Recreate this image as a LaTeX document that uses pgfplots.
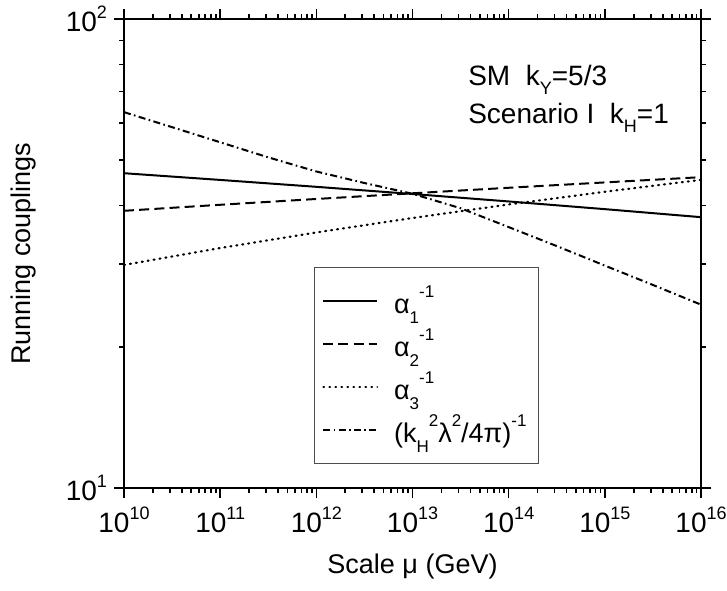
\documentclass[border=0pt]{standalone}
\usepackage{fontspec}
\setmainfont{Liberation Sans}
\usepackage{pgfplots}
\pgfplotsset{compat=1.18}
\newcommand\tsup[1]{\raisebox{0.46em}{\fontsize{9}{9}\selectfont #1}}
\newcommand\lsup[1]{\raisebox{0.6em}{\fontsize{8.5}{9}\selectfont #1}}
\newcommand\lsub[1]{\raisebox{-0.38em}{\fontsize{8.5}{9}\selectfont #1}}
\newcommand\asub[1]{\raisebox{-0.35em}{\fontsize{9}{9}\selectfont #1}}
\begin{document}
\begin{tikzpicture}
\useasboundingbox (-62pt,-51pt) rectangle (301.5pt,244pt);
\begin{axis}[
 at={(0,0)}, anchor=south west,
 scale only axis, width=288.5pt, height=234.5pt,
 xmode=log, ymode=log,
 xmin=1e10, xmax=1e16, ymin=10, ymax=100,
 xtick={1e10,1e11,1e12,1e13,1e14,1e15,1e16},
 xticklabels={10\tsup{10},10\tsup{11},10\tsup{12},10\tsup{13},10\tsup{14},10\tsup{15},10\tsup{16}},
 minor xtick={2e10,3e10,4e10,5e10,6e10,7e10,8e10,9e10,
   2e11,3e11,4e11,5e11,6e11,7e11,8e11,9e11,
   2e12,3e12,4e12,5e12,6e12,7e12,8e12,9e12,
   2e13,3e13,4e13,5e13,6e13,7e13,8e13,9e13,
   2e14,3e14,4e14,5e14,6e14,7e14,8e14,9e14,
   2e15,3e15,4e15,5e15,6e15,7e15,8e15,9e15},
 ytick={10,100}, yticklabels={10\tsup{1},10\tsup{2}},
 minor ytick={20,30,40,50,60,70,80,90},
 tick align=outside,
 major tick length=5pt, minor tick length=2.5pt,
 axis line style={line width=1pt},
 every tick/.style={black, line width=0.8pt},
 tick label style={font=\fontsize{14}{16}\selectfont},
 xticklabel style={yshift=-1pt},
 xlabel={Scale μ (GeV)}, ylabel={Running couplings},
 every axis x label/.style={at={(axis description cs:0.5,-0.168)}, anchor=center, font=\fontsize{13.5}{16}\selectfont},
 every axis y label/.style={at={(axis description cs:-0.175,0.5)}, anchor=center, rotate=90, font=\fontsize{13.5}{16}\selectfont},
 legend style={at={(rel axis cs:0.329,0.471)}, anchor=north west,
   draw=gray!60!black, line width=0.6pt, fill=white,
   font=\fontsize{13.5}{16}\selectfont,
   inner xsep=4pt, inner ysep=7pt, row sep=2pt},
 legend cell align=left,
 legend image code/.code={\draw[#1, line width=0.8pt] (0pt,0pt) -- (27pt,0pt);},
]
\addplot[black, line width=1pt] coordinates {
 (1e10,46.9) (1e11,45.38) (1e12,43.87) (1e13,42.35) (1e14,40.83) (1e15,39.32) (1e16,37.8)};
\addlegendentry{\hspace{6pt}α\lsub{1}\lsup{-1}}
\addplot[black, line width=1pt, dash pattern=on 5pt off 2.6pt] coordinates {
 (1e10,39.0) (1e11,40.17) (1e12,41.33) (1e13,42.5) (1e14,43.67) (1e15,44.83) (1e16,46.0)};
\addlegendentry{\hspace{6pt}α\lsub{2}\lsup{-1}}
\addplot[black, line width=1.1pt, line cap=round, dash pattern=on 0.5pt off 2.5pt] coordinates {
 (1e10,29.9) (1e11,32.48) (1e12,35.07) (1e13,37.65) (1e14,40.23) (1e15,42.82) (1e16,45.4)};
\addlegendentry{\hspace{6pt}α\lsub{3}\lsup{-1}}
\addplot[black, line width=1pt, dash pattern=on 3.5pt off 1.7pt on 0.8pt off 1.7pt] coordinates {
 (1e10,63.3) (3.16e10,58.8) (1e11,54.6) (3.16e11,50.7) (1e12,47.3) (3.16e12,44.7) (1e13,42.4)
 (3.16e13,39.5) (1e14,36.0) (3.16e14,32.8) (1e15,29.8) (3.16e15,27.1) (1e16,24.6)};
\addlegendentry{\hspace{6pt}(k\lsub{H}\lsup{2}λ\lsup{2}/4π)\lsup{-1}}
\node[anchor=base west, font=\fontsize{14}{16}\selectfont, inner sep=0pt] at (rel axis cs:0.596,0.859) {SM\ \ k\asub{Y}=5/3};
\node[anchor=base west, font=\fontsize{14}{16}\selectfont, inner sep=0pt] at (rel axis cs:0.596,0.778) {Scenario I\ \ k\asub{H}=1};
\end{axis}
\end{tikzpicture}
\end{document}
